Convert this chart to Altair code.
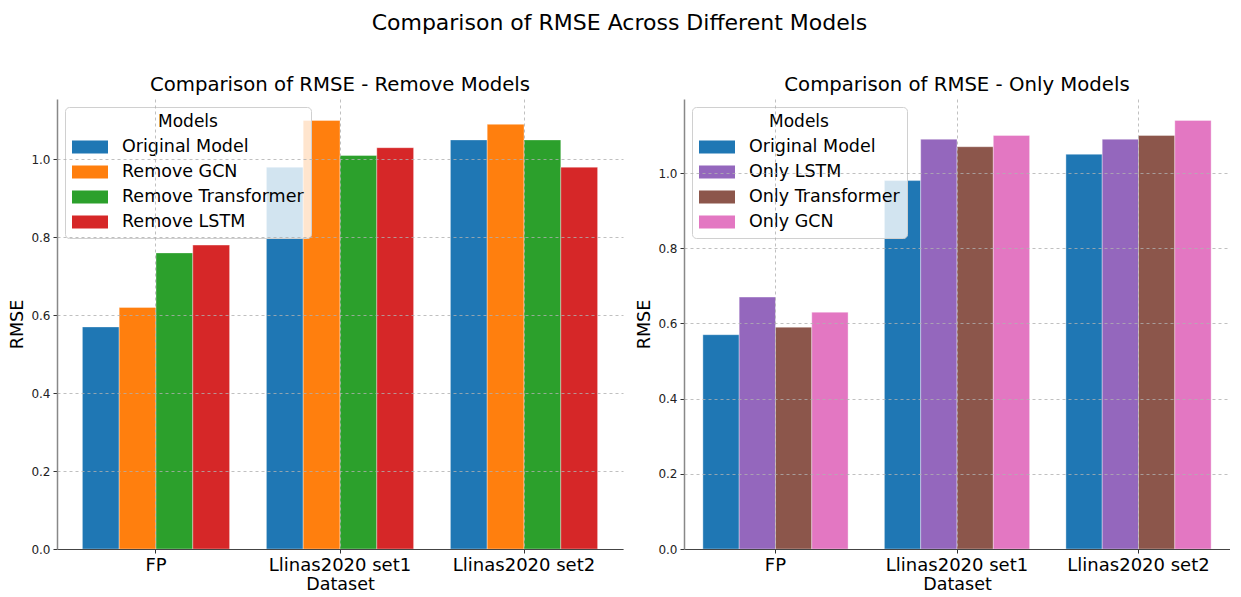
import altair as alt
import pandas as pd

datasets = ["FP", "Llinas2020 set1", "Llinas2020 set2"]

remove_models = ["Original Model", "Remove GCN", "Remove Transformer", "Remove LSTM"]
remove_original = [0.57, 0.98, 1.05]
remove_gcn = [0.62, 1.10, 1.09]
remove_transformer = [0.76, 1.01, 1.05]
remove_lstm = [0.78, 1.03, 0.98]
remove_colors = ["#1f77b4", "#ff7f0e", "#2ca02c", "#d62728"]

only_models = ["Original Model", "Only LSTM", "Only Transformer", "Only GCN"]
only_original = [0.57, 0.98, 1.05]
only_lstm = [0.67, 1.09, 1.09]
only_transformer = [0.59, 1.07, 1.10]
only_gcn = [0.63, 1.10, 1.14]
only_colors = ["#1f77b4", "#9467bd", "#8c564b", "#e377c2"]

y_ticks = [0.0, 0.2, 0.4, 0.6, 0.8, 1.0]

FONT = "DejaVu Sans"


def make_df(models, series):
    rows = []
    for m, vals in zip(models, series):
        for d, v in zip(datasets, vals):
            rows.append({"Dataset": d, "Model": m, "RMSE": v})
    return pd.DataFrame(rows)


def panel(df, models, colors, title, ymax, width, pad_outer):
    return alt.Chart(df).mark_bar(stroke="white", strokeWidth=0.6, strokeOpacity=0.6).encode(
        x=alt.X(
            "Dataset:N",
            sort=datasets,
            scale=alt.Scale(paddingInner=0.2, paddingOuter=pad_outer),
            axis=alt.Axis(
                title="Dataset", labelAngle=0, labelFontSize=18, titleFontSize=17.5,
                titleFontWeight="normal", labelColor="#000", titleColor="#000",
                grid=True, gridDash=[3, 3], gridColor="#b0b0b0", gridWidth=0.8,
                bandPosition=0.5, tickSize=4, tickColor="#333", domainColor="#444",
                labelPadding=3, titlePadding=1, zindex=1, labelFont=FONT, titleFont=FONT,
            ),
        ),
        xOffset=alt.XOffset("Model:N", sort=models,
                            scale=alt.Scale(domain=models, paddingInner=0, paddingOuter=0)),
        y=alt.Y(
            "RMSE:Q",
            scale=alt.Scale(domain=[0, ymax], nice=False, zero=True),
            axis=alt.Axis(
                title="RMSE", values=y_ticks, format=".1f", labelFontSize=12,
                titleFontSize=17.5, titleFontWeight="normal", labelColor="#222",
                titleColor="#000", grid=True, gridDash=[3, 3], gridColor="#b0b0b0",
                gridWidth=0.8, tickSize=4, tickColor="#333", domainColor="#888",
                domainWidth=1.5, labelPadding=3, titlePadding=4, zindex=1,
                labelFont=FONT, titleFont=FONT,
            ),
        ),
        color=alt.Color(
            "Model:N",
            sort=models,
            scale=alt.Scale(domain=models, range=colors),
            legend=alt.Legend(
                title="Models", orient="top-left", offset=8,
                titleFontSize=17, titleFontWeight="normal", titleFont=FONT,
                titleAnchor="middle", titleColor="#000", titlePadding=7,
                labelFontSize=17.5, labelFont=FONT, labelColor="#000", labelLimit=0,
                labelOffset=23, symbolOffset=9,
                symbolType="M-2,-0.72H2V0.72H-2Z", symbolSize=324, symbolStrokeWidth=0,
                rowPadding=7, padding=7,
                fillColor="rgba(255,255,255,0.8)", strokeColor="#d0d0d0", cornerRadius=4,
            ),
        ),
    ).properties(
        width=width, height=450,
        title=alt.TitleParams(title, fontSize=19.7, fontWeight="normal", font=FONT, color="#000", offset=4),
    )


left = panel(
    make_df(remove_models, [remove_original, remove_gcn, remove_transformer, remove_lstm]),
    remove_models, remove_colors, "Comparison of RMSE - Remove Models", 1.155, 566, 0.138,
)
right = panel(
    make_df(only_models, [only_original, only_lstm, only_transformer, only_gcn]),
    only_models, only_colors, "Comparison of RMSE - Only Models", 1.197, 546, 0.104,
)

chart = alt.hconcat(left, right, spacing=12).resolve_scale(
    color="independent", y="independent", x="independent", xOffset="independent"
).resolve_legend(color="independent").properties(
    title=alt.TitleParams(
        "Comparison of RMSE Across Different Models", fontSize=22, fontWeight="normal",
        font=FONT, color="#000", anchor="middle", offset=40,
    ),
    padding={"left": 0, "top": 4, "right": 0, "bottom": 0},
).configure_view(stroke=None)

chart.save("out.html", embed_options={"renderer": "svg", "actions": False})
